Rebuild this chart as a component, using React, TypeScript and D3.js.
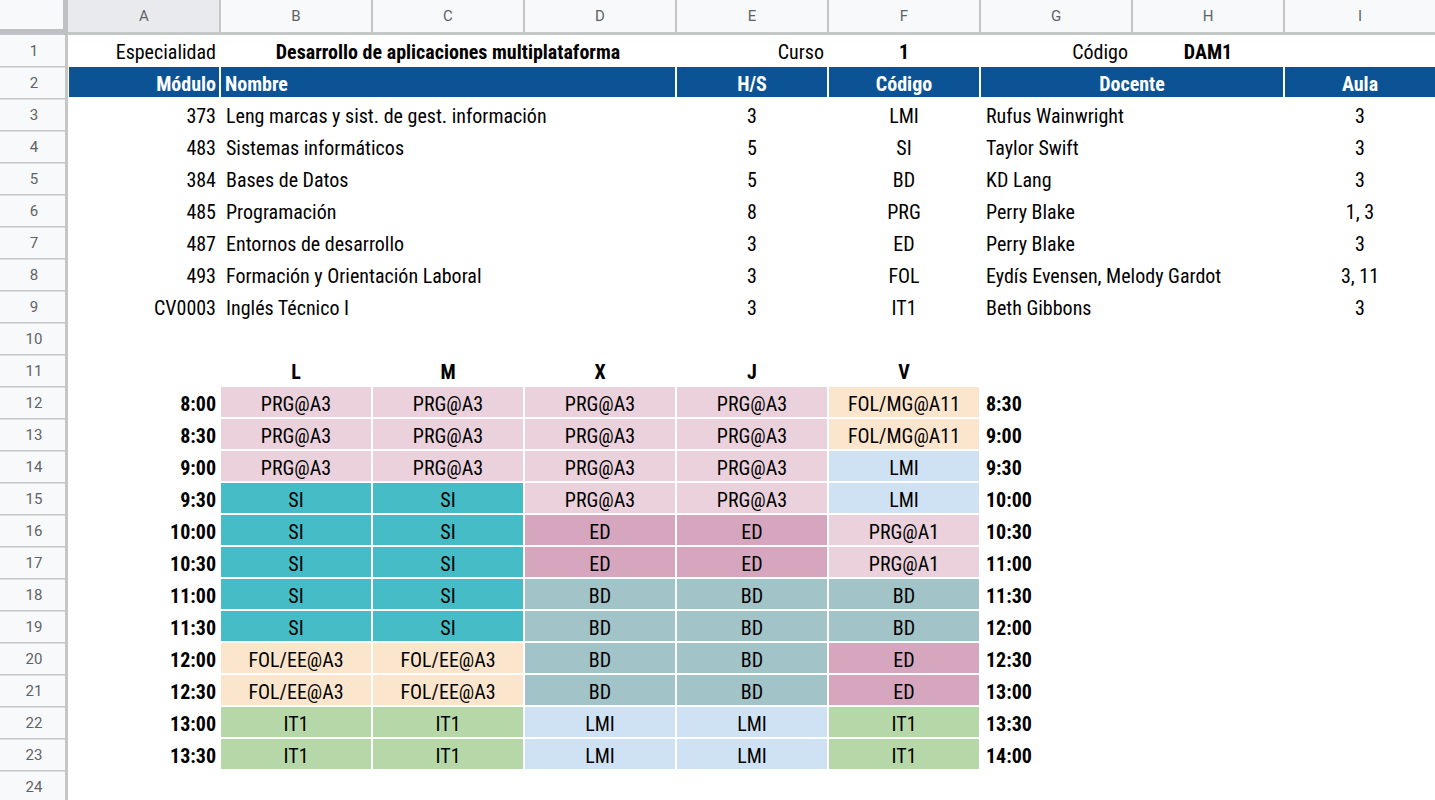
import { useEffect, useRef } from 'react';
import * as d3 from 'd3';

// cabecera
const especialidad = 'Desarrollo de aplicaciones multiplataforma';
const curso = '1';
const codigoCurso = 'DAM1';

// módulos
const modCodes = ['373', '483', '384', '485', '487', '493', 'CV0003'];
const modNames = [
    'Leng marcas y sist. de gest. información',
    'Sistemas informáticos',
    'Bases de Datos',
    'Programación',
    'Entornos de desarrollo',
    'Formación y Orientación Laboral',
    'Inglés Técnico I',
];
const modHours = [3, 5, 5, 8, 3, 3, 3];
const modAbbr = ['LMI', 'SI', 'BD', 'PRG', 'ED', 'FOL', 'IT1'];
const modTeachers = [
    'Rufus Wainwright',
    'Taylor Swift',
    'KD Lang',
    'Perry Blake',
    'Perry Blake',
    'Eydís Evensen, Melody Gardot',
    'Beth Gibbons',
];
const modRooms = ['3', '3', '3', '1, 3', '3', '3, 11', '3'];

// horario
const days = ['L', 'M', 'X', 'J', 'V'];
const startTimes = ['8:00', '8:30', '9:00', '9:30', '10:00', '10:30', '11:00', '11:30', '12:00', '12:30', '13:00', '13:30'];
const endTimes = ['8:30', '9:00', '9:30', '10:00', '10:30', '11:00', '11:30', '12:00', '12:30', '13:00', '13:30', '14:00'];
const lunes = ['PRG@A3', 'PRG@A3', 'PRG@A3', 'SI', 'SI', 'SI', 'SI', 'SI', 'FOL/EE@A3', 'FOL/EE@A3', 'IT1', 'IT1'];
const martes = ['PRG@A3', 'PRG@A3', 'PRG@A3', 'SI', 'SI', 'SI', 'SI', 'SI', 'FOL/EE@A3', 'FOL/EE@A3', 'IT1', 'IT1'];
const miercoles = ['PRG@A3', 'PRG@A3', 'PRG@A3', 'PRG@A3', 'ED', 'ED', 'BD', 'BD', 'BD', 'BD', 'LMI', 'LMI'];
const jueves = ['PRG@A3', 'PRG@A3', 'PRG@A3', 'PRG@A3', 'ED', 'ED', 'BD', 'BD', 'BD', 'BD', 'LMI', 'LMI'];
const viernes = ['FOL/MG@A11', 'FOL/MG@A11', 'LMI', 'LMI', 'PRG@A1', 'PRG@A1', 'BD', 'BD', 'ED', 'ED', 'IT1', 'IT1'];
const schedule = [lunes, martes, miercoles, jueves, viernes];

const subjectColor = {
    PRG: '#ead1dc',
    SI: '#46bdc6',
    ED: '#d5a6bd',
    BD: '#a2c4c9',
    FOL: '#fce5cd',
    LMI: '#cfe2f3',
    IT1: '#b6d7a8',
};

const colLetters = ['A', 'B', 'C', 'D', 'E', 'F', 'G', 'H', 'I'];
const rowNums = d3.range(1, 25);

const App = () => {
    const svgRef = useRef(null);
    const width = 1435;
    const height = 800;
    const headerH = 35;
    const rowHdrW = 68;
    const colW = 152;
    const rowH = 32;
    const font = "'Roboto Condensed', Roboto, sans-serif";

    useEffect(() => {
        const svg = d3.select(svgRef.current);
        svg.selectAll('*').remove();

        const x = d3.scaleBand()
            .domain(colLetters)
            .range([rowHdrW, rowHdrW + colW * colLetters.length]);
        const y = d3.scaleBand()
            .domain(rowNums.map(String))
            .range([headerH, headerH + rowH * rowNums.length]);

        const colL = (c) => x(c);
        const colR = (c) => x(c) + x.bandwidth();
        const rowT = (r) => y(String(r));
        const rowMid = (r) => y(String(r)) + rowH / 2;

        svg.append('rect').attr('width', width).attr('height', height).attr('fill', '#fff');

        const txt = (g, px, py, s, opts = {}) => {
            g.append('text')
                .attr('x', px)
                .attr('y', py)
                .attr('dy', opts.dy || '0.4em')
                .attr('text-anchor', opts.anchor || 'middle')
                .attr('font-family', opts.family || font)
                .attr('font-size', opts.size || 20)
                .attr('font-weight', opts.bold ? 700 : 400)
                .attr('fill', opts.fill || '#000')
                .text(s);
        };

        // ---- column headers
        const hdr = svg.append('g');
        hdr.append('rect').attr('width', width).attr('height', headerH).attr('fill', '#f8f9fa');
        hdr.append('rect').attr('x', colL('A')).attr('width', x.bandwidth()).attr('height', headerH).attr('fill', '#e8eaed');
        colLetters.forEach(c => {
            hdr.append('rect').attr('x', colR(c) - 1).attr('y', 0).attr('width', 2).attr('height', headerH).attr('fill', '#c4c7c5');
            txt(hdr, (colL(c) + colR(c)) / 2, 16, c, { size: 15, fill: '#5f6368', family: 'Roboto, sans-serif', dy: '0.36em' });
        });

        // ---- row headers
        const rh = svg.append('g');
        rh.append('rect').attr('y', 0).attr('width', rowHdrW).attr('height', height).attr('fill', '#f8f9fa');
        rowNums.forEach(r => {
            rh.append('rect').attr('x', 0).attr('y', rowT(r) + rowH - 1).attr('width', rowHdrW).attr('height', 1.5).attr('fill', '#c4c7c5');
            txt(rh, 34, rowMid(r), String(r), { size: 15, fill: '#5f6368', family: 'Roboto, sans-serif', dy: '0.36em' });
        });
        rh.append('rect').attr('x', rowHdrW - 3).attr('y', 0).attr('width', 3).attr('height', height).attr('fill', '#c4c7c5');
        svg.append('rect').attr('x', 0).attr('y', headerH - 3).attr('width', width).attr('height', 3).attr('fill', '#c4c7c5');
        // corner
        svg.append('rect').attr('width', rowHdrW - 5).attr('height', headerH - 5).attr('fill', '#f8f9fa');
        svg.append('rect').attr('x', rowHdrW - 5).attr('width', 5).attr('height', headerH).attr('fill', '#bdc1c6');
        svg.append('rect').attr('y', headerH - 6).attr('width', rowHdrW).attr('height', 5).attr('fill', '#bdc1c6');

        const body = svg.append('g');

        // ---- fila 1
        const r1 = rowMid(1);
        txt(body, colR('A') - 4, r1, 'Especialidad', { anchor: 'end' });
        txt(body, (colL('B') + colR('D')) / 2, r1, especialidad, { bold: true });
        txt(body, colR('E') - 4, r1, 'Curso', { anchor: 'end' });
        txt(body, (colL('F') + colR('F')) / 2, r1, curso, { bold: true });
        txt(body, colR('G') - 4, r1, 'Código', { anchor: 'end' });
        txt(body, (colL('H') + colR('H')) / 2, r1, codigoCurso, { bold: true });

        // ---- fila 2 (cabecera azul)
        const heads = [
            { from: 'A', to: 'A', label: 'Módulo', anchor: 'end' },
            { from: 'B', to: 'D', label: 'Nombre', anchor: 'start' },
            { from: 'E', to: 'E', label: 'H/S', anchor: 'middle' },
            { from: 'F', to: 'F', label: 'Código', anchor: 'middle' },
            { from: 'G', to: 'H', label: 'Docente', anchor: 'middle' },
            { from: 'I', to: 'I', label: 'Aula', anchor: 'middle' },
        ];
        const t2 = rowT(2);
        heads.forEach(h => {
            const x0 = colL(h.from) + 1;
            const x1 = h.to === 'I' ? width : colR(h.to) - 1;
            body.append('rect').attr('x', x0).attr('y', t2).attr('width', x1 - x0).attr('height', rowH - 2).attr('fill', '#0b5394');
            const px = h.anchor === 'end' ? colR(h.to) - 4 : h.anchor === 'start' ? colL(h.from) + 5 : (colL(h.from) + colR(h.to)) / 2;
            txt(body, px, rowMid(2), h.label, { anchor: h.anchor, bold: true, fill: '#fff' });
        });

        // ---- módulos
        modCodes.forEach((code, i) => {
            const cy = rowMid(3 + i);
            txt(body, colR('A') - 4, cy, code, { anchor: 'end' });
            txt(body, colL('B') + 6, cy, modNames[i], { anchor: 'start' });
            txt(body, (colL('E') + colR('E')) / 2, cy, String(modHours[i]));
            txt(body, (colL('F') + colR('F')) / 2, cy, modAbbr[i]);
            txt(body, colL('G') + 6, cy, modTeachers[i], { anchor: 'start' });
            txt(body, (colL('I') + colR('I')) / 2, cy, modRooms[i]);
        });

        // ---- horario
        const dayCols = ['B', 'C', 'D', 'E', 'F'];
        days.forEach((d, j) => {
            const c = dayCols[j];
            txt(body, (colL(c) + colR(c)) / 2, rowMid(11), d, { bold: true });
        });
        startTimes.forEach((t, i) => {
            const r = 12 + i;
            txt(body, colR('A') - 4, rowMid(r), t, { anchor: 'end', bold: true });
            txt(body, colL('G') + 6, rowMid(r), endTimes[i], { anchor: 'start', bold: true });
        });
        schedule.forEach((col, j) => {
            const c = dayCols[j];
            col.forEach((s, i) => {
                const r = 12 + i;
                const key = s.split(/[@/]/)[0];
                body.append('rect')
                    .attr('x', colL(c) + 1)
                    .attr('y', rowT(r))
                    .attr('width', x.bandwidth() - 2)
                    .attr('height', rowH - 2)
                    .attr('fill', subjectColor[key] || '#fff');
                txt(body, (colL(c) + colR(c)) / 2, rowMid(r), s);
            });
        });
    }, []);

    return (
        <div>
            <svg ref={svgRef} width={width} height={height} style={{ position: 'fixed', left: 0, top: 0 }}></svg>
        </div>
    );
};

export default App;
